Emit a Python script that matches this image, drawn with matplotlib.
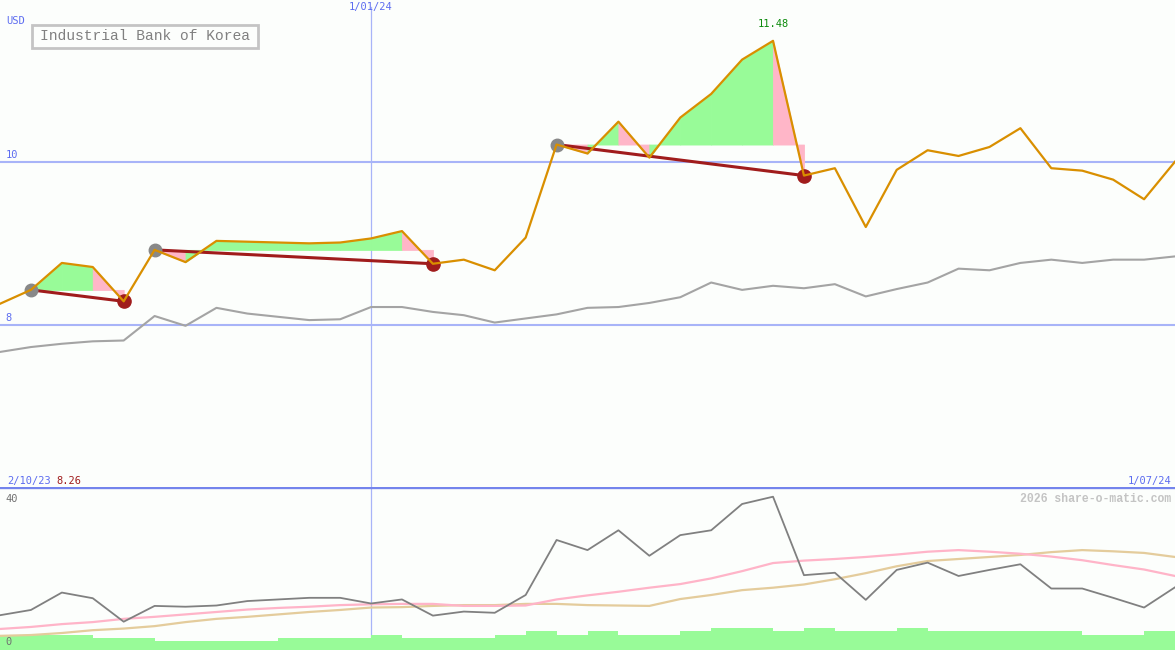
import numpy as np
import matplotlib.pyplot as plt
import matplotlib.transforms as mtransforms
from matplotlib.patches import Rectangle

# weekly closes, Industrial Bank of Korea (USD)
price = [8.26, 8.43, 8.76, 8.71, 8.29, 8.92, 8.77, 9.03, 9.02, 9.01,
         9.00, 9.01, 9.06, 9.15, 8.75, 8.80, 8.67, 9.07, 10.21, 10.10,
         10.49, 10.05, 10.54, 10.83, 11.25, 11.48, 9.83, 9.92, 9.20, 9.90,
         10.14, 10.07, 10.18, 10.41, 9.92, 9.89, 9.78, 9.54, 10.00]
# comparison index (grey line, top panel)
index_line = [7.67, 7.73, 7.77, 7.80, 7.81, 8.11, 7.99, 8.21, 8.14, 8.10,
              8.06, 8.07, 8.22, 8.22, 8.16, 8.12, 8.03, 8.08, 8.13, 8.21,
              8.22, 8.27, 8.34, 8.52, 8.43, 8.48, 8.45, 8.50, 8.35, 8.44,
              8.52, 8.69, 8.67, 8.76, 8.80, 8.76, 8.80, 8.80, 8.84]

# lower panel
lower_line = [8.6, 9.9, 14.2, 12.8, 7.0, 10.9, 10.7, 11.0, 12.1, 12.5,
              12.9, 12.9, 11.5, 12.5, 8.5, 9.5, 9.2, 13.6, 27.2, 24.7,
              29.6, 23.3, 28.4, 29.6, 36.1, 37.9, 18.5, 19.1, 12.4, 19.8,
              21.6, 18.3, 19.8, 21.2, 15.2, 15.2, 12.9, 10.5, 15.5]
avg_short = [5.2, 5.7, 6.4, 6.9, 7.7, 8.2, 8.8, 9.4, 10.0, 10.4,
             10.7, 11.1, 11.3, 11.4, 11.4, 10.9, 10.9, 11.0, 12.5, 13.5,
             14.4, 15.4, 16.3, 17.7, 19.5, 21.5, 22.1, 22.5, 23.0, 23.6,
             24.3, 24.7, 24.3, 23.8, 23.1, 22.2, 21.0, 19.9, 18.3]
avg_long = [3.5, 3.7, 4.2, 4.9, 5.3, 5.9, 6.9, 7.7, 8.2, 8.8,
            9.4, 9.9, 10.5, 10.6, 10.9, 11.1, 11.1, 11.4, 11.4, 11.1,
            11.0, 10.9, 12.6, 13.6, 14.8, 15.4, 16.2, 17.5, 19.0, 20.7,
            22.0, 22.5, 23.0, 23.5, 24.2, 24.7, 24.4, 24.0, 23.0]
volume = [3.7, 3.7, 3.7, 3.0, 3.0, 2.2, 2.2, 2.2, 2.2, 3.0,
          3.0, 3.0, 3.7, 3.0, 3.0, 3.0, 3.7, 4.7, 3.7, 4.7,
          3.7, 3.7, 4.7, 5.4, 5.4, 4.7, 5.4, 4.7, 4.7, 5.4,
          4.7, 4.7, 4.7, 4.7, 4.7, 3.7, 3.7, 4.7]

# trend segments (start, end) and colour of each week inside them
segments = [(1, 4), (5, 14), (18, 26)]
segment_fills = [['g', 'g', 'p'],
                 ['p', 'g', 'g', 'g', 'g', 'g', 'g', 'g', 'p'],
                 ['p', 'g', 'p', 'g', 'g', 'g', 'g', 'p']]

year_mark = 12
year_label = '1/01/24'
start_label, end_label = '2/10/23', '1/07/24'
price_grid = [8, 10]
peak_idx = int(np.argmax(price))

BG = '#fcfefc'
BLUE = '#5c6cf0'
GRID = '#a8b4f8'
MONO = 'DejaVu Sans Mono'
GREEN = '#98fb98'
PINK = '#ffb6c8'

fig = plt.figure(figsize=(11.75, 6.5), dpi=100, facecolor=BG)
ax1 = fig.add_axes([0, 1 - 487 / 650, 1, 487 / 650], facecolor=BG)
ax2 = fig.add_axes([0, 0, 1, 1 - 487 / 650], facecolor=BG)

x = np.arange(len(price))

# --- top panel ---
for (s, e), fills in zip(segments, segment_fills):
    level = price[s]
    for k, i in enumerate(range(s, e)):
        col = GREEN if fills[k] == 'g' else PINK
        ax1.fill_between(x[i:i + 2], price[i:i + 2], level, facecolor=col,
                         edgecolor=col, lw=0.6, interpolate=True, zorder=1)

for g in price_grid:
    ax1.axhline(g, color=GRID, lw=1.5, zorder=0.5)
ax1.axvline(year_mark, ymax=0.985, color=GRID, lw=0.9, zorder=0.5)

ax1.plot(x, index_line, color='#a4a4a4', lw=1.5, zorder=2)
for s, e in segments:
    ax1.plot([s, e], [price[s], price[e]], color='#a01c1c', lw=2.2, zorder=3)
    ax1.plot(s, price[s], 'o', ms=9, color='#888888', zorder=3)
    ax1.plot(e, price[e], 'o', ms=9.5, color='#a01c1c', zorder=3)
ax1.plot(x, price, color='#d98f00', lw=1.6, zorder=4)

ax1.set_xlim(0, len(price) - 1)
ax1.set_ylim(6.016, 11.98)
ax1.axis('off')

tr = mtransforms.blended_transform_factory(ax1.transAxes, ax1.transData)
for g in price_grid:
    ax1.text(0.005, g + 0.02, str(g), transform=tr, color=BLUE, fontsize=7.5,
             family=MONO, va='bottom', ha='left')
ax1.text(0.005, 0.947, 'USD', transform=ax1.transAxes, color=BLUE, fontsize=7.5,
         family=MONO, va='bottom')
ax1.text(year_mark, 1.0 - 0.004, year_label,
         transform=mtransforms.blended_transform_factory(ax1.transData, ax1.transAxes),
         color=BLUE, fontsize=7.5, family=MONO, ha='center', va='top')
ax1.text(peak_idx, price[peak_idx] + 0.15, f'{price[peak_idx]:.2f}', color='#0a8a0a',
         fontsize=7.5, family=MONO, ha='center', va='bottom')
ax1.text(0.006, 0.003, start_label, transform=ax1.transAxes, color=BLUE,
         fontsize=7.5, family=MONO, va='bottom')
ax1.text(0.048, 0.003, f'{price[0]:.2f}', transform=ax1.transAxes, color='#a01c1c',
         fontsize=7.5, family=MONO, va='bottom')
ax1.text(0.997, 0.003, end_label, transform=ax1.transAxes, color=BLUE,
         fontsize=7.5, family=MONO, va='bottom', ha='right')

# title box
ax1.add_patch(Rectangle((32 / 1175, 1 - 48 / 487), 226 / 1175, 23 / 487,
                        transform=ax1.transAxes, fill=False, ec='#c4c4c4', lw=2))
ax1.text(145 / 1175, 1 - 36.5 / 487, 'Industrial Bank of Korea', transform=ax1.transAxes,
         color='#808080', fontsize=10.5, family='Liberation Mono', ha='center', va='center')

# --- bottom panel ---
ax2.bar(np.arange(len(volume)), volume, width=1.0, align='edge', color=GREEN,
        lw=0, zorder=1)
ax2.axvline(year_mark, color=GRID, lw=0.9, zorder=0.5)
ax2.plot(x, avg_long, color='#e4cc9c', lw=1.6, zorder=2)
ax2.plot(x, avg_short, color='#ffb4c8', lw=1.6, zorder=2)
ax2.plot(x, lower_line, color='#808080', lw=1.3, zorder=3)
ax2.axhline(40.3, color='#7484ec', lw=2.4, zorder=4)
ax2.set_xlim(0, len(price) - 1)
ax2.set_ylim(0, 40.3)
ax2.axis('off')
ax2.text(0.005, 0.96, '40', transform=ax2.transAxes, color='#707070', fontsize=7.5,
         family=MONO, va='top')
ax2.text(0.005, 0.02, '0', transform=ax2.transAxes, color='#707070', fontsize=7.5,
         family=MONO, va='bottom')
ax2.text(0.997, 0.965, '2026 share-o-matic.com', transform=ax2.transAxes,
         color='#c4c4c4', fontsize=8.3, family='Liberation Mono', weight='bold',
         ha='right', va='top')

fig.savefig('out.png', dpi=100, facecolor=BG)
